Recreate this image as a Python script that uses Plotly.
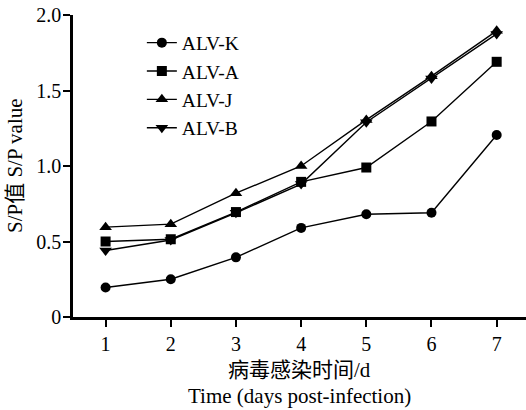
import plotly.graph_objects as go

days = [1, 2, 3, 4, 5, 6, 7]
alv_k = [0.195, 0.25, 0.395, 0.59, 0.68, 0.69, 1.205]
alv_a = [0.50, 0.515, 0.695, 0.895, 0.99, 1.295, 1.69]
alv_j = [0.595, 0.615, 0.82, 1.0, 1.305, 1.595, 1.895]
alv_b = [0.44, 0.51, 0.69, 0.88, 1.29, 1.58, 1.875]

series = [
    ("ALV-K", alv_k, "circle", 10),
    ("ALV-A", alv_a, "square", 10),
    ("ALV-J", alv_j, "triangle-up", 11),
    ("ALV-B", alv_b, "triangle-down", 11),
]

FONT = "Liberation Serif, Times New Roman, Noto Sans CJK SC, serif"

fig = go.Figure()
for i, (name, vals, sym, sz) in enumerate(series):
    fig.add_trace(go.Scatter(
        x=days, y=vals, name=name, mode="lines+markers",
        line=dict(color="black", width=1.4),
        marker=dict(symbol=sym, size=sz, color="black"),
        legendgroup=name,
    ))

fig.update_layout(
    width=526, height=410,
    margin=dict(l=73, r=0, t=15, b=93),
    paper_bgcolor="white", plot_bgcolor="white",
    font=dict(family=FONT, size=20, color="black"),
    showlegend=True,
    legend=dict(
        x=0.152, y=0.972, xanchor="left", yanchor="top",
        font=dict(family=FONT, size=19.5, color="black"),
        bgcolor="rgba(0,0,0,0)",
        tracegroupgap=0,
        traceorder="grouped",
        itemwidth=30,
    ),
    xaxis=dict(
        range=[0.5, 7.45], tickvals=days, ticktext=[str(d) for d in days],
        showline=True, linecolor="black", linewidth=2.5,
        ticks="outside", ticklen=7, tickwidth=2, tickcolor="black",
        showgrid=False, zeroline=False,
        tickfont=dict(family=FONT, size=20),
    ),
    yaxis=dict(
        range=[0, 2.0], tickvals=[0, 0.5, 1.0, 1.5, 2.0],
        ticktext=["0", "0.5", "1.0", "1.5", "2.0"],
        showline=True, linecolor="black", linewidth=2.5,
        ticks="outside", ticklen=7, tickwidth=2, tickcolor="black",
        showgrid=False, zeroline=False,
        tickfont=dict(family=FONT, size=20),
        ticklabelstandoff=-2,
    ),
    annotations=[
        dict(text="病毒感染时间/d", xref="paper", yref="paper",
             x=0.5, y=-0.1755, xanchor="center", yanchor="middle",
             showarrow=False, font=dict(family=FONT, size=21)),
        dict(text="Time (days post-infection)", xref="paper", yref="paper",
             x=0.5, y=-0.2616, xanchor="center", yanchor="middle",
             showarrow=False, font=dict(family=FONT, size=21)),
        dict(text="S/P值 S/P value", xref="paper", yref="paper",
             x=-0.128, y=0.5, xanchor="center", yanchor="middle",
             textangle=-90, showarrow=False, font=dict(family=FONT, size=21)),
    ],
)

fig.write_html("out.html", config={"displayModeBar": False},
               post_script="document.body.style.margin='0';document.body.style.padding='0';")
